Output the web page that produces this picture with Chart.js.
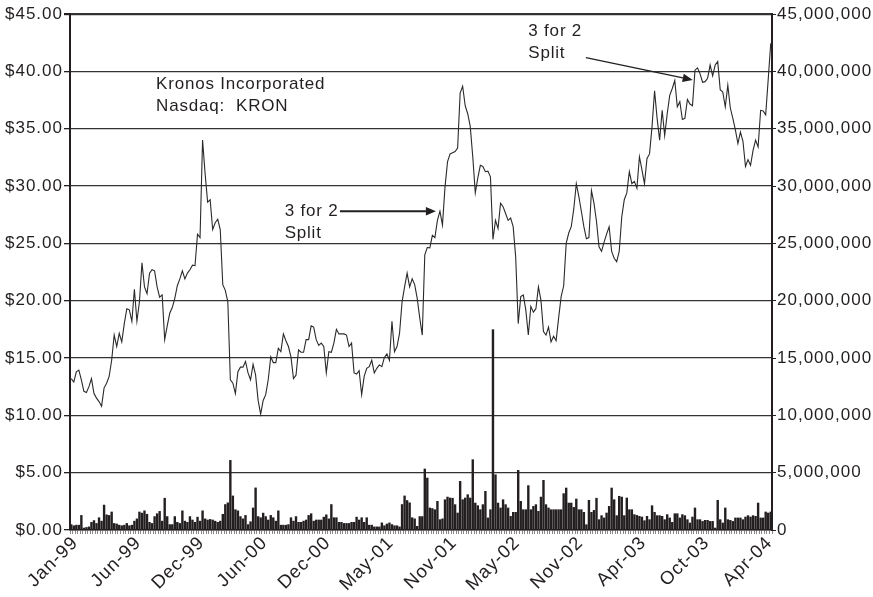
<!DOCTYPE html>
<html>
<head>
<meta charset="utf-8">
<script src="https://cdn.jsdelivr.net/npm/chart.js@4/dist/chart.umd.min.js"></script>
<style>
  html, body { margin: 0; padding: 0; background: #ffffff; }
  #wrap { width: 873px; height: 597px; position: relative; }
</style>
</head>
<body>
<div id="wrap"><canvas id="c"></canvas></div>
<script>
// ---- Data (weekly, Jan-99 .. Apr-04) ----
const tickLabels = ['Jan-99','Jun-99','Dec-99','Jun-00','Dec-00','May-01','Nov-01','May-02','Nov-02','Apr-03','Oct-03','Apr-04'];
const weeksPerTick = 25;

const price = [
  13.2, 12.9, 13.8, 13.95, 13.1, 12.1, 12.0, 12.5, 13.2, 11.9,
  11.5, 11.2, 10.8, 12.4, 12.8, 13.4, 14.8, 17.0, 16.0, 17.15,
  16.4, 18.0, 19.3, 19.2, 18.2, 21.0, 18.2, 19.9, 23.3, 21.2,
  20.6, 22.4, 22.7, 22.6, 21.2, 20.3, 20.5, 16.6, 17.8, 18.9,
  19.4, 20.2, 21.3, 21.9, 22.6, 21.9, 22.4, 22.7, 23.1, 23.05,
  25.8, 25.5, 34.0, 31.1, 28.6, 28.8, 26.2, 26.8, 27.1, 26.2,
  21.4, 20.9, 19.9, 13.1, 12.8, 11.9, 13.8, 14.2, 14.2, 14.7,
  13.7, 13.1, 14.45, 13.5, 11.3, 10.1, 11.3, 11.8, 13.1, 15.1,
  14.6, 14.6, 15.85, 15.55, 17.1, 16.5, 16.0, 15.1, 13.2, 13.5,
  15.7, 15.5, 15.5, 16.6, 16.6, 17.8, 17.7, 16.6, 16.1, 16.3,
  16.0, 13.7, 15.55, 15.5, 16.3, 17.5, 17.1, 17.1, 17.1, 17.0,
  16.0, 16.3, 13.7, 13.6, 13.9, 11.8, 13.4, 14.1, 14.25, 14.8,
  13.7, 14.1, 14.4, 14.25, 15.05, 15.35, 14.8, 18.2, 15.55, 16.0,
  17.15, 19.9, 21.2, 22.4, 21.2, 21.9, 21.4, 20.2, 18.5, 17.0,
  24.0, 24.65, 24.6, 25.7, 25.5, 27.0, 27.8, 26.6, 29.9, 32.1,
  32.8, 32.9, 33.0, 33.3, 38.1, 38.7, 37.0, 36.3, 35.2, 32.55,
  29.4, 30.7, 31.8, 31.7, 31.25, 31.3, 30.8, 25.35, 27.0, 26.3,
  28.5, 28.2, 27.6, 27.0, 27.2, 26.45, 23.8, 18.0, 20.35, 20.5,
  19.2, 17.0, 19.5, 19.0, 19.3, 21.2, 20.05, 17.3, 17.0, 17.7,
  16.4, 16.9, 16.5, 18.5, 20.35, 21.3, 25.0, 25.9, 26.45, 28.0,
  30.2, 29.1, 27.8, 26.45, 25.4, 25.5, 29.6, 28.5, 26.9, 24.7,
  24.3, 25.1, 25.8, 26.45, 24.3, 23.7, 23.4, 24.3, 27.3, 28.8,
  29.4, 31.25, 30.2, 30.4, 29.8, 32.55, 31.4, 30.2, 32.4, 32.8,
  35.2, 38.3, 35.9, 34.0, 36.6, 34.4, 36.3, 37.9, 38.5, 39.2,
  36.9, 37.35, 35.8, 35.9, 37.55, 37.15, 37.0, 40.1, 40.3, 39.8,
  39.05, 39.1, 39.4, 40.55, 39.6, 40.55, 40.85, 38.4, 38.2, 36.9,
  38.8, 36.8, 35.9, 34.9, 33.7, 34.7, 33.9, 31.7, 32.3, 31.8,
  33.1, 34.0, 33.4, 36.6, 36.55, 36.2, 39.3, 42.45
];

// weekly volume, millions of shares
const volumeM = [
  0.5, 0.4, 0.45, 0.45, 1.3, 0.2, 0.25, 0.3, 0.7, 0.85,
  0.6, 1.1, 0.8, 2.2, 1.35, 1.3, 1.6, 0.6, 0.55, 0.45,
  0.4, 0.45, 0.6, 0.4, 0.45, 0.8, 1.0, 1.6, 1.5, 1.7,
  1.4, 0.7, 0.6, 1.2, 1.45, 1.65, 0.8, 2.8, 1.2, 0.5,
  0.5, 1.2, 0.7, 0.6, 1.7, 0.8, 0.7, 1.2, 0.9, 0.7,
  1.15, 0.8, 1.7, 1.0, 0.9, 0.95, 0.9, 0.8, 0.7, 0.8,
  1.4, 2.25, 2.4, 6.1, 3.0, 1.8, 1.7, 1.2, 1.0, 1.3,
  0.5, 0.75, 1.95, 3.7, 1.2, 1.1, 1.5, 1.2, 0.9, 1.3,
  1.1, 0.8, 1.7, 0.45, 0.45, 0.45, 0.5, 1.1, 0.8, 1.2,
  0.7, 0.7, 0.8, 0.9, 1.3, 1.45, 0.8, 0.9, 0.9, 0.9,
  1.15, 1.35, 1.0, 2.25, 1.1, 1.1, 0.7, 0.7, 0.6, 0.6,
  0.6, 0.7, 0.7, 1.15, 0.9, 1.1, 0.7, 1.1, 0.45, 0.45,
  0.3, 0.3, 0.3, 0.65, 0.4, 0.55, 0.65, 0.5, 0.4, 0.4,
  0.3, 2.25, 3.0, 2.6, 2.4, 1.1, 1.0, 0.35, 1.2, 1.2,
  5.35, 4.56, 1.95, 1.9, 1.8, 2.53, 0.93, 1.0, 2.67, 2.9,
  2.82, 2.8, 2.24, 1.51, 4.27, 2.67, 2.82, 3.11, 2.82, 6.16,
  2.38, 2.15, 1.8, 2.24, 3.4, 1.08, 1.8, 17.5, 4.85, 2.38,
  1.95, 2.67, 2.24, 1.95, 1.22, 1.57, 1.57, 5.23, 2.53, 1.8,
  1.8, 3.9, 1.8, 2.09, 2.24, 1.66, 2.9, 4.36, 2.24, 1.95,
  1.8, 1.8, 1.8, 1.8, 1.8, 3.2, 3.69, 2.38, 2.38, 2.0,
  2.73, 1.8, 1.8, 1.57, 0.49, 2.62, 1.57, 1.74, 2.8, 0.93,
  1.28, 1.08, 1.51, 2.09, 3.69, 2.67, 1.28, 2.97, 2.9, 1.28,
  2.82, 1.8, 1.8, 1.37, 1.3, 1.22, 1.16, 0.84, 1.22, 0.93,
  2.15, 1.57, 1.28, 1.28, 1.22, 0.93, 1.37, 1.08, 0.7, 1.45,
  1.45, 1.08, 1.37, 1.28, 0.93, 0.64, 1.16, 1.95, 0.93, 0.93,
  0.78, 0.87, 0.87, 0.78, 0.78, 0.2, 2.62, 0.93, 0.64, 1.95,
  0.93, 0.87, 0.78, 1.08, 1.08, 1.08, 0.93, 1.16, 1.28, 1.16,
  1.28, 1.22, 2.38, 1.08, 1.08, 1.6, 1.51, 1.6
];

const weeks = price.map((_, i) => i);

// annotations: text and arrows anchored in data space (week index, price)
const notes = [
  { lines: ['Kronos Incorporated', 'Nasdaq:  KRON'], week: 33.6, price: 38.5 },
  { lines: ['3 for 2', 'Split'], week: 84.5, price: 27.35 },
  { lines: ['3 for 2', 'Split'], week: 181, price: 43.1 }
];
const arrows = [
  { from: [106.4, 27.8], to: [144.4, 27.8], width: 2 },
  { from: [203.8, 41.2], to: [246.1, 39.25], width: 1.3 }
];

const INK = '#231f20';
const FAMILY = "'Liberation Sans', Arial, Helvetica, sans-serif";
const TICK_FONT = { family: FAMILY, size: 17 };
const XTICK_FONT = { family: FAMILY, size: 18.5 };

const spacingPlugin = {
  id: 'spacing',
  beforeUpdate(chart) { chart.ctx.letterSpacing = '1px'; },
  beforeDraw(chart) { chart.ctx.letterSpacing = '1px'; }
};

const notePlugin = {
  id: 'notes',
  afterDraw(chart) {
    const ctx = chart.ctx, xs = chart.scales.x, ys = chart.scales.y;
    const px = w => xs.left + (w + 0.5) * (xs.width / weeks.length);
    ctx.save();
    ctx.letterSpacing = '0.8px';
    ctx.fillStyle = INK;
    ctx.font = "17px " + FAMILY;
    ctx.textBaseline = 'alphabetic';
    ctx.textAlign = 'left';
    notes.forEach(n => {
      const x = px(n.week), y = ys.getPixelForValue(n.price);
      n.lines.forEach((t, k) => ctx.fillText(t, x, y + k * 22));
    });
    ctx.strokeStyle = INK;
    arrows.forEach(a => {
      const x1 = px(a.from[0]), y1 = ys.getPixelForValue(a.from[1]);
      const x2 = px(a.to[0]), y2 = ys.getPixelForValue(a.to[1]);
      const ang = Math.atan2(y2 - y1, x2 - x1);
      const hl = 10, hw = 4.2;
      const bx = x2 - hl * Math.cos(ang), by = y2 - hl * Math.sin(ang);
      ctx.lineWidth = a.width;
      ctx.beginPath(); ctx.moveTo(x1, y1); ctx.lineTo(bx, by); ctx.stroke();
      ctx.beginPath();
      ctx.moveTo(x2, y2);
      ctx.lineTo(bx + hw * Math.sin(ang), by - hw * Math.cos(ang));
      ctx.lineTo(bx - hw * Math.sin(ang), by + hw * Math.cos(ang));
      ctx.closePath(); ctx.fill();
    });
    ctx.restore();
  }
};

new Chart(document.getElementById('c'), {
  type: 'bar',
  data: {
    labels: weeks,
    datasets: [
      {
        type: 'line', label: 'Price', data: price, yAxisID: 'y',
        borderColor: '#2a2a2a', borderWidth: 1.1, pointRadius: 0,
        tension: 0, order: 0
      },
      {
        type: 'bar', label: 'Volume', data: volumeM, yAxisID: 'y2',
        backgroundColor: INK, borderWidth: 0,
        barPercentage: 0.95, categoryPercentage: 1.0, order: 1
      }
    ]
  },
  options: {
    responsive: true, maintainAspectRatio: false, animation: false,
    devicePixelRatio: 1,
    layout: { padding: { top: 14, left: 0, right: 0, bottom: 0 } },
    plugins: { legend: { display: false }, tooltip: { enabled: false } },
    scales: {
      x: {
        type: 'category', offset: true,
        grid: { display: true, drawOnChartArea: false, drawTicks: true, tickLength: 4, color: '#555', lineWidth: 0.7 },
        border: { display: true, color: INK, width: 1.5 },
        ticks: {
          autoSkip: false, minRotation: 45, maxRotation: 45, padding: -2, labelOffset: 4,
          color: INK, font: XTICK_FONT,
          callback: (v, i) => (i % weeksPerTick === 0 && tickLabels[i / weeksPerTick]) ? tickLabels[i / weeksPerTick] : ''
        },
        afterFit: s => { s.height = 67; }
      },
      y: {
        position: 'left', min: 0, max: 45,
        grid: {
          color: '#333333', tickColor: INK, tickLength: 6,
          lineWidth: c => (c.tick && c.tick.value === 45) ? 2.2 : 1.3
        },
        border: { display: true, color: INK, width: 2 },
        ticks: { stepSize: 5, padding: 1, color: INK, font: TICK_FONT, callback: v => '$' + Number(v).toFixed(2) },
        afterFit: s => { s.width = 70; }
      },
      y2: {
        position: 'right', min: 0, max: 45,
        grid: { drawOnChartArea: false, drawTicks: true, tickLength: 4, tickColor: INK },
        border: { display: true, color: INK, width: 2 },
        ticks: { stepSize: 5, padding: 1, color: INK, font: TICK_FONT, callback: v => (v * 1000000).toLocaleString('en-US') },
        afterFit: s => { s.width = 101; }
      }
    }
  },
  plugins: [spacingPlugin, notePlugin]
});
</script>
</body>
</html>
